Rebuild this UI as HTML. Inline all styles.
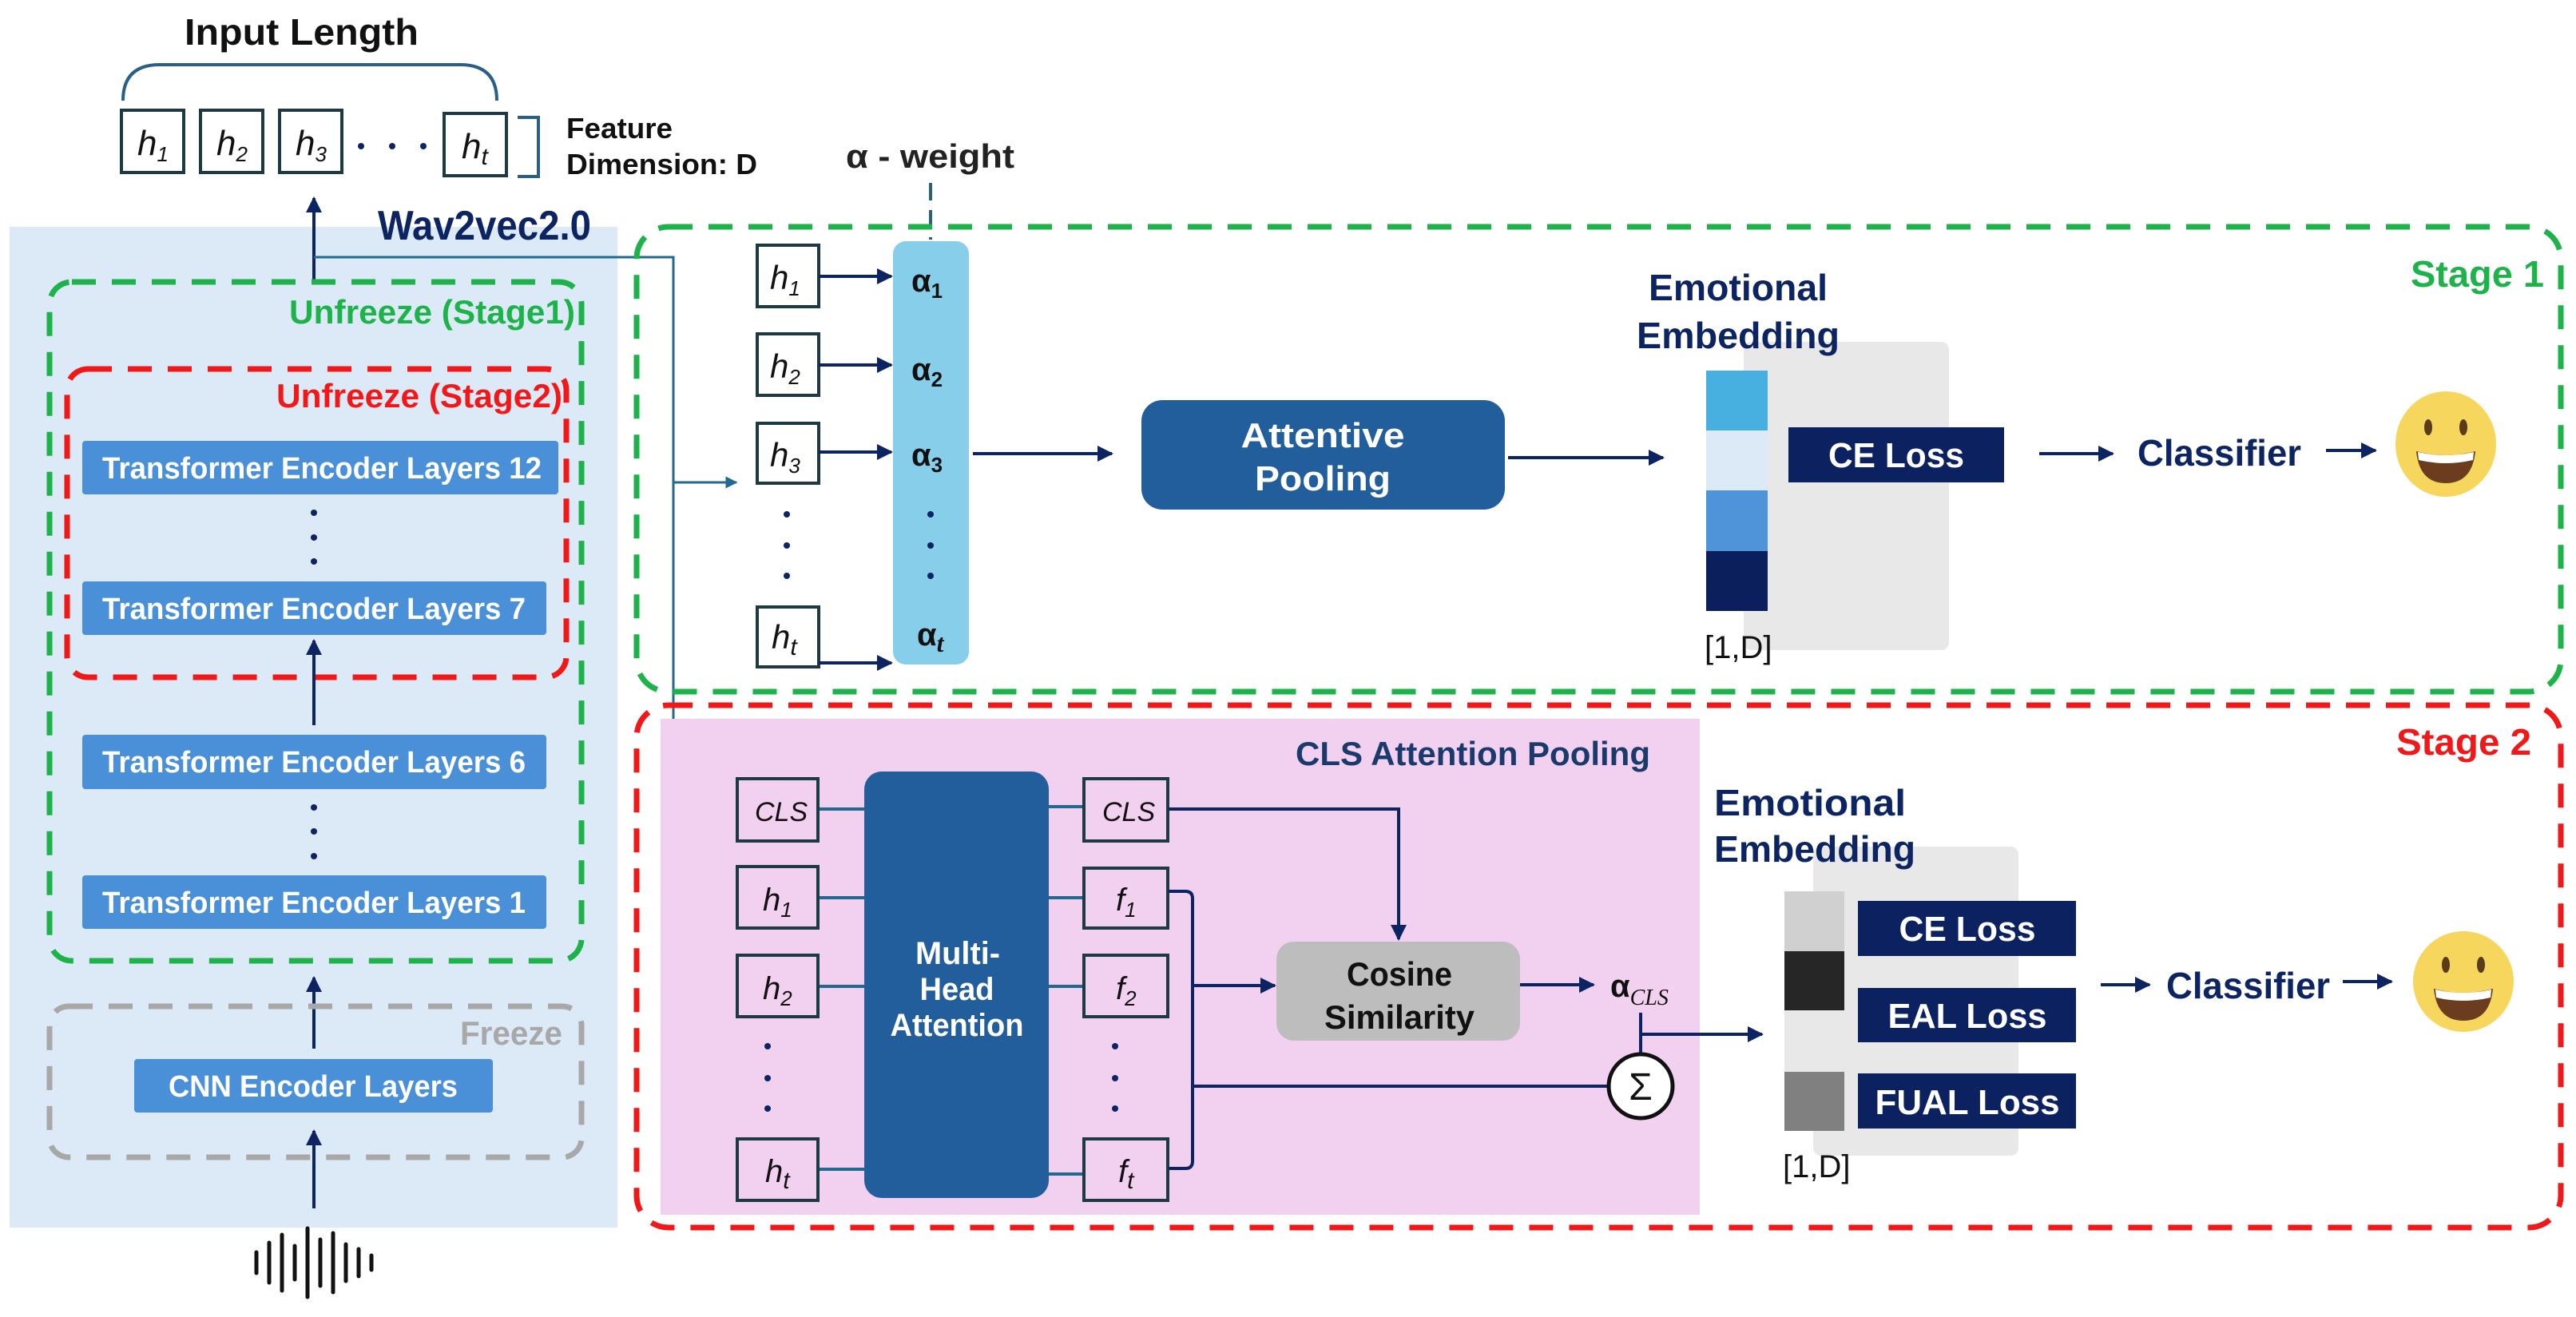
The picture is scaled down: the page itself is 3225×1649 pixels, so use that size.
<!DOCTYPE html>
<html><head><meta charset="utf-8"><style>
html,body{margin:0;padding:0;background:#fff}
svg{display:block}
text{font-family:"Liberation Sans",sans-serif}
.b{font-weight:bold}
.m{font-family:"Liberation Serif",serif;font-style:italic}
</style></head><body>
<svg width="3225" height="1649" viewBox="0 0 3225 1649" xmlns="http://www.w3.org/2000/svg">
<defs>
<marker id="a" viewBox="0 0 10 10" refX="9" refY="5" markerWidth="5" markerHeight="5" orient="auto-start-reverse"><path d="M0,0 L10,5 L0,10 z" fill="#0d2463"/></marker>
<marker id="t" viewBox="0 0 10 10" refX="9" refY="5" markerWidth="5" markerHeight="5" orient="auto"><path d="M0,0 L10,5 L0,10 z" fill="#21698f"/></marker>
</defs>

<!-- top: input length -->
<text x="231" y="56" font-size="46" class="b" fill="#111" textLength="293" lengthAdjust="spacingAndGlyphs">Input Length</text>
<path d="M154,126 Q154,81 200,81 L576,81 Q622,81 622,126" fill="none" stroke="#2a5f86" stroke-width="4"/>
<g fill="#fff" stroke="#1d3a44" stroke-width="4">
<rect x="152" y="138" width="78" height="78"/><rect x="251" y="138" width="78" height="78"/>
<rect x="350" y="138" width="78" height="78"/><rect x="556" y="142" width="78" height="78"/>
</g>
<g class="m" font-size="44" fill="#111">
<text x="172" y="194">h<tspan font-size="26" dy="8">1</tspan></text>
<text x="271" y="194">h<tspan font-size="26" dy="8">2</tspan></text>
<text x="370" y="194">h<tspan font-size="26" dy="8">3</tspan></text>
<text x="578" y="198">h<tspan font-size="30" dy="8">t</tspan></text>
</g>
<g fill="#0d2463"><circle cx="452" cy="183" r="4"/><circle cx="491" cy="183" r="4"/><circle cx="530" cy="183" r="4"/></g>
<path d="M648,147 L674,147 L674,221 L648,221" fill="none" stroke="#2a5f86" stroke-width="4"/>
<text x="709" y="173" font-size="36" class="b" fill="#111" textLength="133" lengthAdjust="spacingAndGlyphs">Feature</text>
<text x="709" y="218" font-size="36" class="b" fill="#111" textLength="239" lengthAdjust="spacingAndGlyphs">Dimension: D</text>
<text x="1059" y="210" font-size="42" class="b" fill="#222" textLength="211" lengthAdjust="spacingAndGlyphs">α - weight</text>
<line x1="1165" y1="229" x2="1165" y2="300" stroke="#2a5f86" stroke-width="4" stroke-dasharray="22,12"/>

<!-- left panel -->
<rect x="12" y="284" width="761" height="1253" fill="#dce9f6"/>
<text x="473" y="300" font-size="52" class="b" fill="#0d2463" textLength="267" lengthAdjust="spacingAndGlyphs">Wav2vec2.0</text>
<line x1="393" y1="352" x2="393" y2="248" stroke="#0d2463" stroke-width="4" marker-end="url(#a)"/>
<polyline points="393,322 843,322 843,1163 900,1163" fill="none" stroke="#21698f" stroke-width="3" marker-end="url(#t)"/>
<polyline points="843,604 922,604" fill="none" stroke="#21698f" stroke-width="3" marker-end="url(#t)"/>

<rect x="62" y="353" width="666" height="850" rx="28" fill="none" stroke="#1db34a" stroke-width="7" stroke-dasharray="30,20"/>
<text x="720" y="405" font-size="42" class="b" fill="#1db34a" text-anchor="end" textLength="358" lengthAdjust="spacingAndGlyphs">Unfreeze (Stage1)</text>
<rect x="84" y="462" width="625" height="386" rx="26" fill="none" stroke="#f01818" stroke-width="7" stroke-dasharray="30,20"/>
<text x="704" y="510" font-size="42" class="b" fill="#f01818" text-anchor="end" textLength="358" lengthAdjust="spacingAndGlyphs">Unfreeze (Stage2)</text>
<g fill="#4a90d9">
<rect x="103" y="552" width="596" height="67" rx="4"/>
<rect x="103" y="728" width="581" height="67" rx="4"/>
<rect x="103" y="920" width="581" height="68" rx="4"/>
<rect x="103" y="1096" width="581" height="67" rx="4"/>
<rect x="168" y="1326" width="449" height="67" rx="4"/>
</g>
<g font-size="38" class="b" fill="#fff" lengthAdjust="spacingAndGlyphs">
<text x="128" y="599" textLength="550" lengthAdjust="spacingAndGlyphs">Transformer Encoder Layers 12</text>
<text x="128" y="775" textLength="530" lengthAdjust="spacingAndGlyphs">Transformer Encoder Layers 7</text>
<text x="128" y="967" textLength="530" lengthAdjust="spacingAndGlyphs">Transformer Encoder Layers 6</text>
<text x="128" y="1143" textLength="530" lengthAdjust="spacingAndGlyphs">Transformer Encoder Layers 1</text>
<text x="211" y="1373" textLength="362" lengthAdjust="spacingAndGlyphs">CNN Encoder Layers</text>
</g>
<g fill="#0d2463"><circle cx="393" cy="642" r="4"/><circle cx="393" cy="673" r="4"/><circle cx="393" cy="703" r="4"/>
<circle cx="393" cy="1011" r="4"/><circle cx="393" cy="1041" r="4"/><circle cx="393" cy="1072" r="4"/></g>
<line x1="393" y1="908" x2="393" y2="802" stroke="#0d2463" stroke-width="4" marker-end="url(#a)"/>
<line x1="393" y1="1313" x2="393" y2="1224" stroke="#0d2463" stroke-width="4" marker-end="url(#a)"/>
<rect x="62" y="1260" width="666" height="189" rx="24" fill="none" stroke="#a8a8a8" stroke-width="7" stroke-dasharray="30,20"/>
<text x="704" y="1308" font-size="42" class="b" fill="#a8a8a8" text-anchor="end" textLength="128" lengthAdjust="spacingAndGlyphs">Freeze</text>
<line x1="393" y1="1513" x2="393" y2="1416" stroke="#0d2463" stroke-width="4" marker-end="url(#a)"/>
<g stroke="#111" stroke-width="5" stroke-linecap="round">
<line x1="321" y1="1568" x2="321" y2="1594"/><line x1="337" y1="1556" x2="337" y2="1606"/>
<line x1="353" y1="1546" x2="353" y2="1616"/><line x1="369" y1="1560" x2="369" y2="1602"/>
<line x1="385" y1="1538" x2="385" y2="1624"/><line x1="401" y1="1552" x2="401" y2="1610"/>
<line x1="417" y1="1544" x2="417" y2="1618"/><line x1="433" y1="1558" x2="433" y2="1604"/>
<line x1="449" y1="1564" x2="449" y2="1598"/><line x1="465" y1="1572" x2="465" y2="1590"/>
</g>

<!-- stage 1 -->
<rect x="797" y="284" width="2409" height="582" rx="40" fill="none" stroke="#1db34a" stroke-width="7" stroke-dasharray="30,20"/>
<text x="3185" y="359" font-size="46" class="b" fill="#1db34a" text-anchor="end" textLength="167" lengthAdjust="spacingAndGlyphs">Stage 1</text>
<rect x="1118" y="302" width="95" height="530" rx="16" fill="#87ceeb"/>
<g fill="#fff" stroke="#1d3a44" stroke-width="4">
<rect x="948" y="307" width="77" height="77"/><rect x="948" y="418" width="77" height="77"/>
<rect x="948" y="530" width="77" height="75"/><rect x="948" y="760" width="77" height="75"/>
</g>
<g class="m" font-size="42" fill="#111">
<text x="964" y="362">h<tspan font-size="26" dy="8">1</tspan></text>
<text x="964" y="473">h<tspan font-size="26" dy="8">2</tspan></text>
<text x="964" y="584">h<tspan font-size="26" dy="8">3</tspan></text>
<text x="966" y="812">h<tspan font-size="30" dy="8">t</tspan></text>
</g>
<g fill="#0d2463"><circle cx="985" cy="644" r="4"/><circle cx="985" cy="683" r="4"/><circle cx="985" cy="721" r="4"/>
<circle cx="1165" cy="644" r="4"/><circle cx="1165" cy="683" r="4"/><circle cx="1165" cy="721" r="4"/></g>
<g font-size="40" class="b" fill="#111">
<text x="1141" y="365">α<tspan font-size="26" dy="8">1</tspan></text>
<text x="1141" y="476">α<tspan font-size="26" dy="8">2</tspan></text>
<text x="1141" y="583">α<tspan font-size="26" dy="8">3</tspan></text>
<text x="1148" y="808">α<tspan class="m" font-size="32" dy="8">t</tspan></text>
</g>
<g stroke="#0d2463" stroke-width="4" marker-end="url(#a)">
<line x1="1025" y1="346" x2="1116" y2="346"/><line x1="1025" y1="457" x2="1116" y2="457"/>
<line x1="1025" y1="566" x2="1116" y2="566"/><line x1="1025" y1="830" x2="1116" y2="830"/>
<line x1="1218" y1="568" x2="1392" y2="568"/><line x1="1888" y1="573" x2="2082" y2="573"/>
<line x1="2553" y1="568" x2="2645" y2="568"/><line x1="2912" y1="564" x2="2974" y2="564"/>
</g>
<rect x="1429" y="501" width="455" height="137" rx="26" fill="#215e9b"/>
<text x="1656" y="560" font-size="44" class="b" fill="#fff" text-anchor="middle" textLength="205" lengthAdjust="spacingAndGlyphs">Attentive</text>
<text x="1656" y="614" font-size="44" class="b" fill="#fff" text-anchor="middle" textLength="170" lengthAdjust="spacingAndGlyphs">Pooling</text>
<rect x="2183" y="428" width="257" height="386" rx="10" fill="#e8e8e8"/>
<text x="2176" y="376" font-size="46" class="b" fill="#0d2463" text-anchor="middle" textLength="224" lengthAdjust="spacingAndGlyphs">Emotional</text>
<text x="2176" y="436" font-size="46" class="b" fill="#0d2463" text-anchor="middle" textLength="254" lengthAdjust="spacingAndGlyphs">Embedding</text>
<rect x="2136" y="464" width="77" height="75" fill="#48b0e0"/>
<rect x="2136" y="539" width="77" height="75" fill="#dce9f6"/>
<rect x="2136" y="614" width="77" height="76" fill="#4f93d8"/>
<rect x="2136" y="690" width="77" height="75" fill="#0a1f5c"/>
<text x="2134" y="824" font-size="40" fill="#111">[1,D]</text>
<rect x="2239" y="535" width="270" height="69" fill="#0b2160"/>
<text x="2374" y="585" font-size="44" class="b" fill="#fff" text-anchor="middle" textLength="170" lengthAdjust="spacingAndGlyphs">CE Loss</text>
<text x="2676" y="583" font-size="46" class="b" fill="#0d2463" textLength="205" lengthAdjust="spacingAndGlyphs">Classifier</text>

<!-- stage 2 -->
<rect x="797" y="883" width="2409" height="654" rx="40" fill="none" stroke="#f01818" stroke-width="7" stroke-dasharray="30,20"/>
<rect x="827" y="900" width="1301" height="621" fill="#f2d0f0"/>
<text x="3169" y="945" font-size="46" class="b" fill="#f01818" text-anchor="end" textLength="169" lengthAdjust="spacingAndGlyphs">Stage 2</text>
<text x="1622" y="958" font-size="42" class="b" fill="#1a3a6c" textLength="444" lengthAdjust="spacingAndGlyphs">CLS Attention Pooling</text>
<g stroke="#21698f" stroke-width="4">
<line x1="1024" y1="1013" x2="1085" y2="1013"/><line x1="1024" y1="1124" x2="1085" y2="1124"/>
<line x1="1024" y1="1235" x2="1085" y2="1235"/><line x1="1024" y1="1464" x2="1085" y2="1464"/>
<line x1="1300" y1="1010" x2="1357" y2="1010"/><line x1="1300" y1="1124" x2="1357" y2="1124"/>
<line x1="1300" y1="1235" x2="1357" y2="1235"/><line x1="1300" y1="1470" x2="1357" y2="1470"/>
</g>
<rect x="1082" y="966" width="231" height="534" rx="22" fill="#215e9b"/>
<g font-size="40" class="b" fill="#fff" text-anchor="middle">
<text x="1199" y="1207" textLength="106" lengthAdjust="spacingAndGlyphs">Multi-</text>
<text x="1198" y="1252" textLength="93" lengthAdjust="spacingAndGlyphs">Head</text>
<text x="1198" y="1297" textLength="167" lengthAdjust="spacingAndGlyphs">Attention</text>
</g>
<g fill="none" stroke="#1d3a44" stroke-width="4">
<rect x="923" y="975" width="101" height="78"/><rect x="923" y="1085" width="101" height="77"/>
<rect x="923" y="1196" width="101" height="77"/><rect x="923" y="1426" width="101" height="77"/>
<rect x="1357" y="975" width="105" height="78"/><rect x="1357" y="1087" width="105" height="75"/>
<rect x="1357" y="1196" width="105" height="77"/><rect x="1357" y="1426" width="105" height="77"/>
</g>
<g class="m" font-size="40" fill="#111">
<text x="945" y="1028" font-size="34">CLS</text>
<text x="955" y="1140">h<tspan font-size="26" dy="8">1</tspan></text>
<text x="955" y="1251">h<tspan font-size="26" dy="8">2</tspan></text>
<text x="958" y="1480">h<tspan font-size="30" dy="8">t</tspan></text>
<text x="1380" y="1028" font-size="34">CLS</text>
<text x="1397" y="1140">f<tspan font-size="26" dy="8">1</tspan></text>
<text x="1397" y="1251">f<tspan font-size="26" dy="8">2</tspan></text>
<text x="1400" y="1480">f<tspan font-size="30" dy="8">t</tspan></text>
</g>
<g fill="#0d2463"><circle cx="961" cy="1310" r="4"/><circle cx="961" cy="1350" r="4"/><circle cx="961" cy="1388" r="4"/>
<circle cx="1396" cy="1310" r="4"/><circle cx="1396" cy="1350" r="4"/><circle cx="1396" cy="1388" r="4"/></g>
<g fill="none" stroke="#0d2463" stroke-width="4">
<polyline points="1463,1013 1751,1013 1751,1176" marker-end="url(#a)"/>
<path d="M1463,1116 L1484,1116 Q1493,1116 1493,1125 L1493,1454 Q1493,1463 1484,1463 L1463,1463"/>
<line x1="1493" y1="1234" x2="1596" y2="1234" marker-end="url(#a)"/>
<line x1="1493" y1="1360" x2="2013" y2="1360"/>
<line x1="1903" y1="1233" x2="1995" y2="1233" marker-end="url(#a)"/>
<line x1="2054" y1="1268" x2="2054" y2="1319"/>
<line x1="2054" y1="1295" x2="2206" y2="1295" marker-end="url(#a)"/>
<line x1="2630" y1="1233" x2="2691" y2="1233" marker-end="url(#a)"/>
<line x1="2933" y1="1229" x2="2994" y2="1229" marker-end="url(#a)"/>
</g>
<rect x="1598" y="1179" width="305" height="124" rx="22" fill="#bdbdbd"/>
<text x="1752" y="1234" font-size="42" class="b" fill="#111" text-anchor="middle" textLength="132" lengthAdjust="spacingAndGlyphs">Cosine</text>
<text x="1752" y="1288" font-size="42" class="b" fill="#111" text-anchor="middle" textLength="188" lengthAdjust="spacingAndGlyphs">Similarity</text>
<text x="2016" y="1248" font-size="40" class="b" fill="#111">α<tspan class="m" font-weight="normal" font-size="28" dy="10">CLS</tspan></text>
<circle cx="2054" cy="1360" r="40" fill="#fff" stroke="#111" stroke-width="5"/>
<text x="2054" y="1377" font-size="48" fill="#111" text-anchor="middle">Σ</text>
<rect x="2270" y="1060" width="257" height="387" rx="10" fill="#e8e8e8"/>
<text x="2266" y="1021" font-size="46" class="b" fill="#0d2463" text-anchor="middle" textLength="240" lengthAdjust="spacingAndGlyphs">Emotional</text>
<text x="2272" y="1079" font-size="46" class="b" fill="#0d2463" text-anchor="middle" textLength="252" lengthAdjust="spacingAndGlyphs">Embedding</text>
<rect x="2234" y="1116" width="75" height="75" fill="#d0d0d0"/>
<rect x="2234" y="1191" width="75" height="74" fill="#262626"/>
<rect x="2234" y="1265" width="75" height="77" fill="#e8e8e8"/>
<rect x="2234" y="1342" width="75" height="74" fill="#808080"/>
<text x="2232" y="1474" font-size="40" fill="#111">[1,D]</text>
<g fill="#0b2160"><rect x="2326" y="1128" width="273" height="69"/><rect x="2326" y="1237" width="273" height="68"/><rect x="2326" y="1344" width="273" height="69"/></g>
<g font-size="44" class="b" fill="#fff" text-anchor="middle">
<text x="2463" y="1178" textLength="171" lengthAdjust="spacingAndGlyphs">CE Loss</text>
<text x="2463" y="1287" textLength="199" lengthAdjust="spacingAndGlyphs">EAL Loss</text>
<text x="2463" y="1395" textLength="231" lengthAdjust="spacingAndGlyphs">FUAL Loss</text>
</g>
<text x="2712" y="1250" font-size="46" class="b" fill="#0d2463" textLength="205" lengthAdjust="spacingAndGlyphs">Classifier</text>

<!-- smileys -->
<g>
<ellipse cx="3062" cy="556" rx="63" ry="66" fill="#f6d65c"/>
<ellipse cx="3040" cy="535" rx="5" ry="10" fill="#5a3b1a"/><ellipse cx="3084" cy="535" rx="5" ry="10" fill="#5a3b1a"/>
<path d="M3025,565 Q3062,575 3099,565 Q3095,605 3062,605 Q3029,605 3025,565 z" fill="#6b3d1e"/>
<path d="M3027,566 Q3062,574 3097,566 L3096,576 Q3062,584 3028,576 z" fill="#fff"/>
</g>
<g>
<ellipse cx="3084" cy="1229" rx="63" ry="63" fill="#f6d65c"/>
<ellipse cx="3062" cy="1208" rx="5" ry="10" fill="#5a3b1a"/><ellipse cx="3106" cy="1208" rx="5" ry="10" fill="#5a3b1a"/>
<path d="M3047,1238 Q3084,1248 3121,1238 Q3117,1278 3084,1278 Q3051,1278 3047,1238 z" fill="#6b3d1e"/>
<path d="M3049,1239 Q3084,1247 3119,1239 L3118,1249 Q3084,1257 3050,1249 z" fill="#fff"/>
</g>
</svg>
</body></html>
